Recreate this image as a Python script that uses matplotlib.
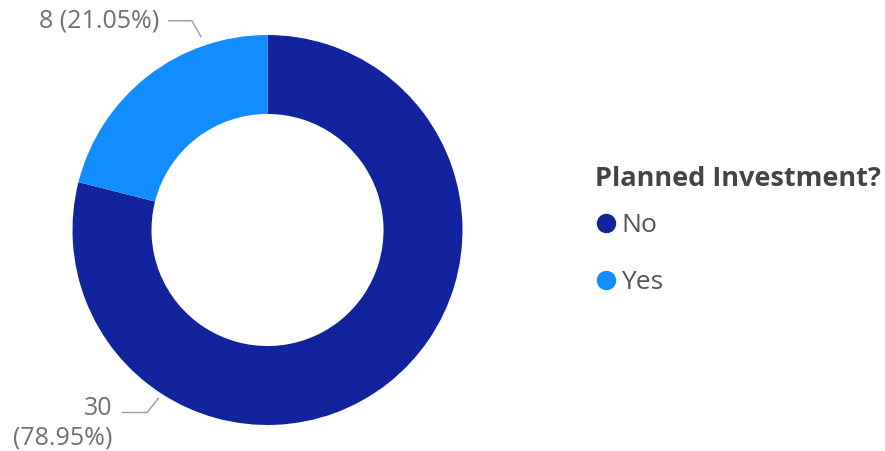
import matplotlib
matplotlib.use("Agg")
import matplotlib.pyplot as plt
from matplotlib.lines import Line2D
import numpy as np

plt.rcParams['font.family'] = ['Open Sans', 'DejaVu Sans']

categories = ["No", "Yes"]
counts = [30, 8]
colors = ["#12239E", "#118DFF"]
legend_title = "Planned Investment?"

total = sum(counts)
W, H = 885, 451
fig = plt.figure(figsize=(W / 100, H / 100), dpi=100)

# donut centre at (267.5, 230) px, outer radius 195 px
cx, cy, R = 267.5, 230, 195
half = 200
ax = fig.add_axes([(cx - half) / W, (H - cy - half) / H, 2 * half / W, 2 * half / H])
ax.pie(counts, colors=colors, startangle=90, counterclock=False,
       radius=1.0, wedgeprops=dict(width=0.405, linewidth=0))
ax.set_xlim(-half / R, half / R)
ax.set_ylim(-half / R, half / R)
ax.set_aspect("equal")
ax.axis("off")

# data labels with leader lines
label_color = "#707070"
line_color = "#9a9a9a"
leader = {
    "No": dict(angle=237, r=1.03, elbow=(-0.056, -0.072), run=-0.128),
    "Yes": dict(angle=109, r=1.05, elbow=(-0.046, 0.08), run=-0.118),
}
for cat, val in zip(categories, counts):
    p = leader[cat]
    a = np.deg2rad(p["angle"])
    x0, y0 = p["r"] * np.cos(a), p["r"] * np.sin(a)
    x1, y1 = x0 + p["elbow"][0], y0 + p["elbow"][1]
    x2 = x1 + p["run"]
    ax.plot([x0, x1, x2], [y0, y1, y1], color=line_color, lw=1.0, clip_on=False)
    pct = val / total * 100
    if cat == "No":
        txt = f"{val}\n({pct:.2f}%)"
        ax.text(x2 - 0.05, y1 - 0.055, txt, ha="right", va="center", multialignment="right",
                fontsize=18, color=label_color, linespacing=1.25, clip_on=False)
    else:
        txt = f"{val} ({pct:.2f}%)"
        ax.text(x2 - 0.05, y1, txt, ha="right", va="center",
                fontsize=18, color=label_color, clip_on=False)

# legend title drawn on its own so the gap to the entries stays tight
fig.text(595 / W, 1 - 179 / H, legend_title, ha="left", va="center",
         fontsize=19.5, fontweight="bold", color="#444444")

handles = [Line2D([], [], marker="o", linestyle="none", markersize=13,
                  markerfacecolor=c, markeredgecolor=c) for c in colors]
leg = fig.legend(handles, categories, loc="center left",
                 bbox_to_anchor=(594 / W, 1 - 254 / H), frameon=False,
                 fontsize=19, handletextpad=0.12, handlelength=0.9, labelspacing=1.2,
                 borderaxespad=0, borderpad=0)
for t in leg.get_texts():
    t.set_color("#555555")

fig.savefig("out.png", dpi=100)
